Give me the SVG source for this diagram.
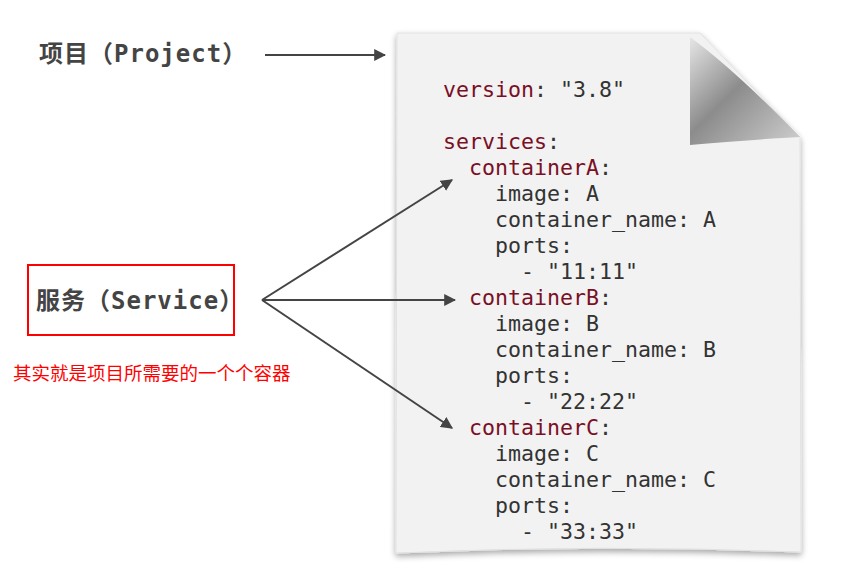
<svg xmlns="http://www.w3.org/2000/svg" width="856" height="579" viewBox="0 0 856 579">
<defs>
<style>
.code{font-family:"DejaVu Sans Mono","Liberation Mono",monospace;font-size:21.6px;fill:#333;}
.key{fill:#7a0f26;}
.title{font-family:"DejaVu Sans Mono","Noto Sans CJK SC",monospace;font-weight:bold;font-size:24px;letter-spacing:1px;fill:#444;}
.note{font-family:"Noto Sans CJK SC",sans-serif;font-size:18.5px;fill:#ff0000;}
.conn{stroke:#444;stroke-width:2;fill:none;marker-end:url(#ah);}
</style>
<marker id="ah" viewBox="0 0 10 10" refX="9" refY="5" markerWidth="6" markerHeight="6" markerUnits="strokeWidth" orient="auto">
<path d="M0,0 L10,5 L0,10 z" fill="#444"/>
</marker>
<filter id="sh" x="-10%" y="-10%" width="120%" height="120%">
<feGaussianBlur in="SourceAlpha" stdDeviation="3"/>
<feOffset dx="0" dy="3" result="b"/>
<feComponentTransfer><feFuncA type="linear" slope="0.35"/></feComponentTransfer>
<feMerge><feMergeNode/><feMergeNode in="SourceGraphic"/></feMerge>
</filter>
<linearGradient id="curl" x1="0" y1="0" x2="1" y2="1">
<stop offset="0" stop-color="#e6e6e6"/>
<stop offset="0.45" stop-color="#8c8c8c"/>
<stop offset="1" stop-color="#cfcfcf"/>
</linearGradient>
</defs>
<rect width="856" height="579" fill="#ffffff"/>
<g id="page">
<path d="M397,33 L700,33 L800,137 L801,552 Q600,544 396,553 Z" fill="#f2f2f2" stroke="#e2e2e2" stroke-width="1" filter="url(#sh)"/>
<path d="M690,37 Q735,70 800,137 Q760,139 690,145 Z" fill="url(#curl)"/>
</g>
<g id="code">
<text class="code" x="443" y="97"><tspan class="key">version</tspan>: "3.8"</text>
<text class="code" x="443" y="149"><tspan class="key">services</tspan>:</text>
<text class="code" x="469" y="175"><tspan class="key">containerA</tspan>:</text>
<text class="code" x="495" y="201">image: A</text>
<text class="code" x="495" y="227">container_name: A</text>
<text class="code" x="495" y="253">ports:</text>
<text class="code" x="521" y="279">- "11:11"</text>
<text class="code" x="469" y="305"><tspan class="key">containerB</tspan>:</text>
<text class="code" x="495" y="331">image: B</text>
<text class="code" x="495" y="357">container_name: B</text>
<text class="code" x="495" y="383">ports:</text>
<text class="code" x="521" y="409">- "22:22"</text>
<text class="code" x="469" y="435"><tspan class="key">containerC</tspan>:</text>
<text class="code" x="495" y="461">image: C</text>
<text class="code" x="495" y="487">container_name: C</text>
<text class="code" x="495" y="513">ports:</text>
<text class="code" x="521" y="539">- "33:33"</text>
</g>
<g id="project">
<text class="title" x="39" y="62">项目（Project）</text>
</g>
<g id="service">
<rect x="28" y="265" width="206" height="70" fill="none" stroke="#ff0000" stroke-width="2"/>
<text class="title" x="36" y="309">服务（Service）</text>
</g>
<g id="note">
<text class="note" x="13" y="380">其实就是项目所需要的一个个容器</text>
</g>
<g id="connectors">
<line class="conn" x1="265" y1="55" x2="385" y2="55"/>
<line class="conn" x1="262" y1="300" x2="452" y2="180"/>
<line class="conn" x1="262" y1="300" x2="455" y2="300"/>
<line class="conn" x1="262" y1="300" x2="452" y2="428"/>
</g>
</svg>
